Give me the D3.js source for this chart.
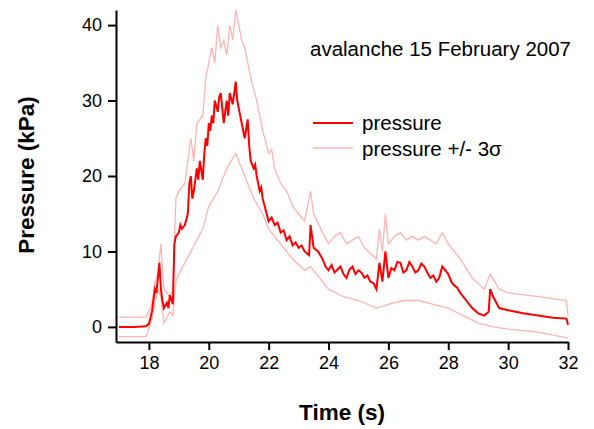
<!DOCTYPE html>
<html>
<head>
<meta charset="utf-8">
<script src="https://cdn.jsdelivr.net/npm/d3@7"></script>
<style>
  body { margin: 0; background: #fff; }
  text { font-family: "Liberation Sans", Arial, sans-serif; }
</style>
</head>
<body>
<script>
// pressure record, [time s, kPa]
var pressure = [
  [17.0, 0], [17.5, 0], [17.9, 0.1], [18.0, 0.4], [18.1, 2], [18.15, 3.5], [18.2, 5], [18.25, 4.5], [18.3, 6.5],
  [18.35, 8.5], [18.4, 5], [18.45, 3.5], [18.5, 2.5], [18.6, 3.2], [18.65, 2.5], [18.7, 4.2], [18.8, 3], [18.85, 11], [18.9, 12],
  [19.0, 12.5], [19.05, 13.5], [19.1, 13], [19.2, 13.5], [19.3, 15], [19.35, 19], [19.4, 20], [19.45, 17], [19.5, 18],
  [19.55, 19.5], [19.6, 21], [19.65, 19.5], [19.7, 22], [19.8, 19.5], [19.85, 23], [19.9, 25], [19.95, 24], [20.0, 27],
  [20.05, 26], [20.1, 28], [20.15, 27], [20.2, 30], [20.3, 28.5], [20.35, 30.5], [20.4, 31], [20.45, 29], [20.5, 27],
  [20.55, 28.5], [20.6, 30], [20.65, 28], [20.7, 31], [20.8, 29.5], [20.85, 31], [20.9, 32.5], [20.95, 30],
  [21.0, 29], [21.05, 28], [21.1, 27], [21.2, 25], [21.3, 27.5], [21.35, 24], [21.4, 22], [21.5, 21], [21.55, 21.5], [21.6, 20],
  [21.7, 18], [21.75, 18.5], [21.8, 17], [21.9, 15.5], [22.0, 14], [22.1, 14.5], [22.2, 13.5], [22.3, 13.8], [22.4, 12.5], [22.5, 12.8], [22.6, 11.5],
  [22.7, 12], [22.8, 10.8], [22.9, 11.2], [23.0, 10.5], [23.1, 10.8], [23.2, 10], [23.35, 9.5], [23.4, 13.5], [23.5, 10.5], [23.65, 10], [23.8, 9],
  [23.9, 8], [24.0, 7.5], [24.1, 8.2], [24.2, 7.2], [24.3, 7.6], [24.4, 8], [24.5, 7], [24.6, 6.5], [24.7, 7.6], [24.8, 8], [24.9, 7], [25.0, 7.5], [25.1, 7.2], [25.2, 6.5],
  [25.3, 6.8], [25.4, 6], [25.5, 5.8], [25.6, 5], [25.7, 8.5], [25.8, 6], [25.9, 10], [26.0, 6.5], [26.1, 7.8], [26.2, 7.5], [26.3, 8.6],
  [26.4, 8.5], [26.5, 7.2], [26.6, 7.5], [26.7, 8.6], [26.8, 8], [26.9, 7.2], [27.0, 7.5], [27.1, 8.4], [27.2, 8], [27.3, 7.2], [27.4, 6.5], [27.5, 6.8], [27.6, 6],
  [27.7, 6.5], [27.8, 8], [27.9, 7.5], [28.0, 7], [28.1, 6], [28.2, 5.5], [28.3, 5.2], [28.4, 4.5], [28.5, 4], [28.6, 3.5], [28.7, 3], [28.8, 2.5], [29.0, 1.8],
  [29.2, 1.5], [29.35, 2], [29.4, 5], [29.5, 4], [29.7, 2.5], [30.0, 2.2], [30.5, 1.8], [31.0, 1.5],
  [31.5, 1.2], [31.95, 1.1], [32.0, 0.3]
];
var upper = [
  [17.0, 1.3], [17.9, 1.3], [18.1, 3], [18.2, 6], [18.3, 7], [18.4, 11], [18.5, 5],
  [18.7, 4], [18.8, 5], [18.9, 17], [19.0, 18], [19.2, 19], [19.4, 25], [19.5, 22],
  [19.6, 27], [19.8, 28], [19.9, 33], [20.0, 35], [20.1, 37], [20.2, 35], [20.3, 40], [20.4, 37], [20.5, 38],
  [20.6, 36], [20.7, 40], [20.8, 38], [20.9, 42], [21.0, 40], [21.1, 38], [21.2, 37], [21.3, 35], [21.4, 33], [21.6, 30], [21.8, 26],
  [22.0, 23], [22.1, 23.5], [22.2, 21], [22.4, 19], [22.6, 18], [22.8, 16], [23.0, 15], [23.2, 14],
  [23.4, 18], [23.5, 15], [23.8, 12.5], [24.0, 11], [24.2, 12], [24.4, 12.5], [24.6, 11], [24.8, 11.5], [25.0, 12], [25.2, 10.5],
  [25.6, 9], [25.7, 13], [25.8, 10], [25.9, 15], [26.0, 11], [26.2, 12], [26.4, 12.5], [26.6, 11.5], [26.8, 12],
  [27.0, 11.5], [27.2, 12], [27.6, 11], [27.8, 12.5], [28.0, 11], [28.4, 9], [28.8, 6.5], [29.2, 5],
  [29.4, 7], [29.7, 5], [30.0, 4.5], [31.0, 4], [31.95, 3.5], [32.0, 1.5]
];
var lower = [
  [17.0, -1.3], [17.9, -1.3], [18.1, 1], [18.3, 5], [18.4, 4], [18.5, 0.5], [18.7, 2],
  [18.8, 1.5], [18.9, 6], [19.0, 7], [19.4, 10], [19.8, 13], [20.0, 16], [20.3, 18],
  [20.6, 21], [20.9, 23], [21.2, 20], [21.5, 17], [21.8, 15], [22.0, 13], [22.4, 11],
  [22.8, 9], [23.2, 7.5], [23.4, 8], [23.8, 6], [24.0, 5], [24.5, 4], [25.0, 3.5],
  [25.6, 2.5], [26.0, 3], [26.5, 3.5], [27.0, 3.5], [27.5, 3], [28.0, 2.5], [28.5, 1.5],
  [29.0, 0.5], [29.5, 0], [30.0, -0.3], [31.0, -0.7], [32.0, -1.5]
];
var xTicks = [18, 20, 22, 24, 26, 28, 30, 32];
var yTicks = [0, 10, 20, 30, 40];

var width = 594;
var height = 429;
var svg = d3
  .select("body")
  .append("svg")
  .attr("width", width)
  .attr("height", height);

var xScale = d3.scaleLinear().domain([16.9, 32]).range([116, 568]);
var yScale = d3.scaleLinear().domain([-2, 42]).range([342, 10]);

var line = d3
  .line()
  .x(function(d) { return xScale(d[0]); })
  .y(function(d) { return yScale(d[1]); });

[upper, lower].forEach(function(s) {
  svg
    .append("path")
    .attr("d", line(s))
    .attr("fill", "none")
    .attr("stroke", "#ffb3b3")
    .attr("stroke-width", 1.3);
});
svg
  .append("path")
  .attr("d", line(pressure))
  .attr("fill", "none")
  .attr("stroke", "#ff0000")
  .attr("stroke-width", 2);

// axes
var xAxis = svg
  .append("g")
  .attr("transform", "translate(0,342)")
  .call(d3.axisBottom(xScale).tickValues(xTicks).tickSize(8).tickPadding(6).tickSizeOuter(0));
var yAxis = svg
  .append("g")
  .attr("transform", "translate(116,0)")
  .call(d3.axisLeft(yScale).tickValues(yTicks).tickSize(8).tickPadding(6).tickSizeOuter(0));
[xAxis, yAxis].forEach(function(a) {
  a.selectAll("path, line").attr("stroke", "#000").attr("stroke-width", 2);
  a.selectAll("text")
    .attr("font-size", 18)
    .attr("font-family", "Liberation Sans, Arial, sans-serif")
    .attr("fill", "#000");
});

svg
  .append("text")
  .attr("x", 342)
  .attr("y", 420)
  .attr("text-anchor", "middle")
  .attr("font-size", 22.5)
  .attr("font-weight", "bold")
  .text("Time (s)");
svg
  .append("text")
  .attr("transform", "translate(34,175) rotate(-90)")
  .attr("text-anchor", "middle")
  .attr("font-size", 22.5)
  .attr("font-weight", "bold")
  .text("Pressure (kPa)");

svg
  .append("text")
  .attr("x", 310)
  .attr("y", 56)
  .attr("font-size", 20.5)
  .text("avalanche 15 February 2007");

// legend
svg.append("line").attr("x1", 313).attr("x2", 353).attr("y1", 123).attr("y2", 123)
  .attr("stroke", "#ff0000").attr("stroke-width", 2);
svg.append("line").attr("x1", 313).attr("x2", 353).attr("y1", 148).attr("y2", 148)
  .attr("stroke", "#ffb3b3").attr("stroke-width", 1.3);
svg.append("text").attr("x", 362).attr("y", 130).attr("font-size", 20.5).text("pressure");
svg.append("text").attr("x", 362).attr("y", 156).attr("font-size", 20.5).text("pressure +/- 3σ");
</script>
</body>
</html>
